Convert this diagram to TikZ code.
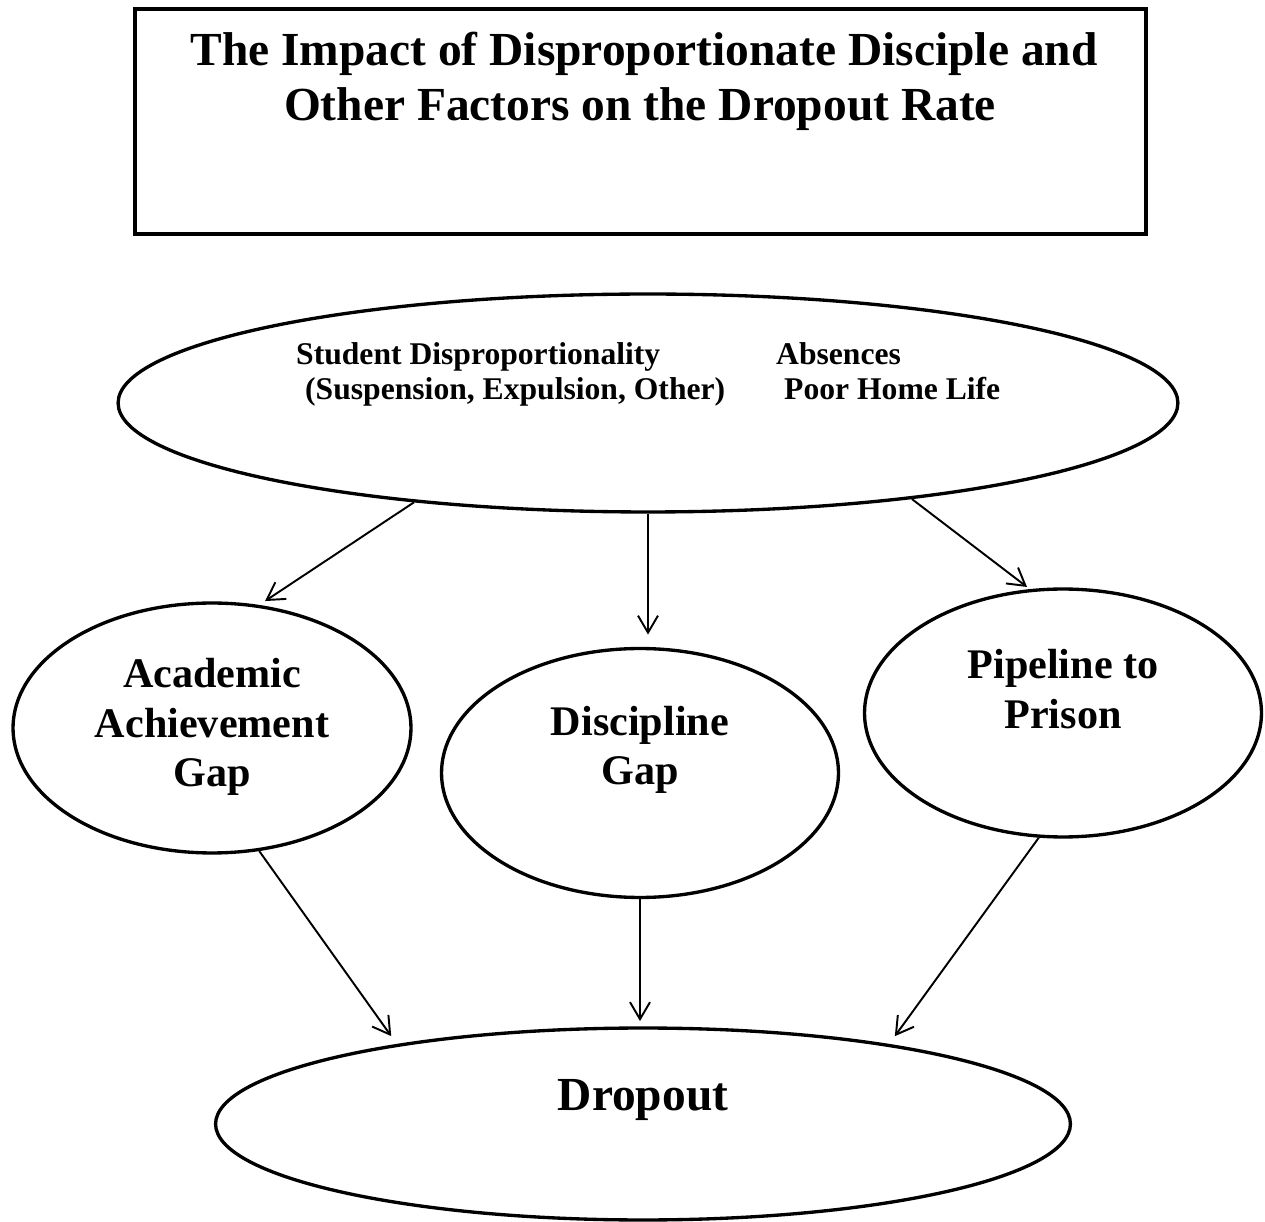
\documentclass[tikz,border=0pt]{standalone}
\usepackage{fontspec}
\setmainfont{Liberation Serif}
\usetikzlibrary{shapes.geometric,arrows.meta}

\tikzset{
  bubble/.style={ellipse,draw,line width=1.9pt,inner sep=0pt},
  link/.style={-{Straight Barb[length=3.4mm,width=4mm]},line width=1.1pt,shorten >=4pt},
  bigtxt/.style={font=\bfseries\fontsize{24}{28}\selectfont,align=center},
  smalltxt/.style={font=\bfseries\fontsize{18}{20.5}\selectfont,anchor=base west},
  titletxt/.style={font=\bfseries\fontsize{27}{30}\selectfont,anchor=base}
}

\begin{document}
\begin{tikzpicture}[x=0.02cm,y=-0.02cm]

  \useasboundingbox (0,0) rectangle (1265,1222);

  % title box
  \draw[line width=1.9pt] (135,9) rectangle (1146,234);
  \node[titletxt] (title1) at (644,66)  {The Impact of Disproportionate Disciple and};
  \node[titletxt] (title2) at (640,121) {Other Factors on the Dropout Rate};

  % ellipses
  \node[bubble,minimum width=21.2cm,minimum height=4.36cm] (top)  at (648,403)  {};
  \node[bubble,minimum width=7.96cm,minimum height=5cm]    (acad) at (212,728)  {};
  \node[bubble,minimum width=7.94cm,minimum height=4.98cm] (disc) at (640,773)  {};
  \node[bubble,minimum width=7.94cm,minimum height=4.96cm] (pipe) at (1063,713) {};
  \node[bubble,minimum width=17.1cm,minimum height=3.84cm] (drop) at (643,1124) {};

  % texts
  \node[smalltxt] (sdp) at (290,365) {Student Disproportionality};
  \node[smalltxt] (seo) at (299,400) {(Suspension, Expulsion, Other)};
  \node[smalltxt] (abs) at (770,365) {Absences};
  \node[smalltxt] (phl) at (778,400) {Poor Home Life};

  \node[bigtxt] (acadtxt) at (212,727)  {Academic\\Achievement\\Gap};
  \node[bigtxt] (disctxt) at (640,750)  {Discipline\\Gap};
  \node[bigtxt] (pipetxt) at (1063,689) {Pipeline to\\Prison};
  \node[titletxt] (droptxt) at (643,1110) {Dropout};

  % arrows
  \draw[link] (top.-157) -- (acad.69);
  \draw[link,shorten >=7pt] (top.south) -- (top.south |- disc.north);
  \draw[link,shorten >=2pt] (top.-20) -- (pipe.105);

  \draw[link,shorten >=5.5pt] (acad.-69) -- (drop.162);
  \draw[link,shorten >=3pt] (disc.south) -- (disc.south |- drop.north);
  \draw[link,shorten >=5.5pt] (pipe.-101) -- (drop.18);

\end{tikzpicture}
\end{document}
